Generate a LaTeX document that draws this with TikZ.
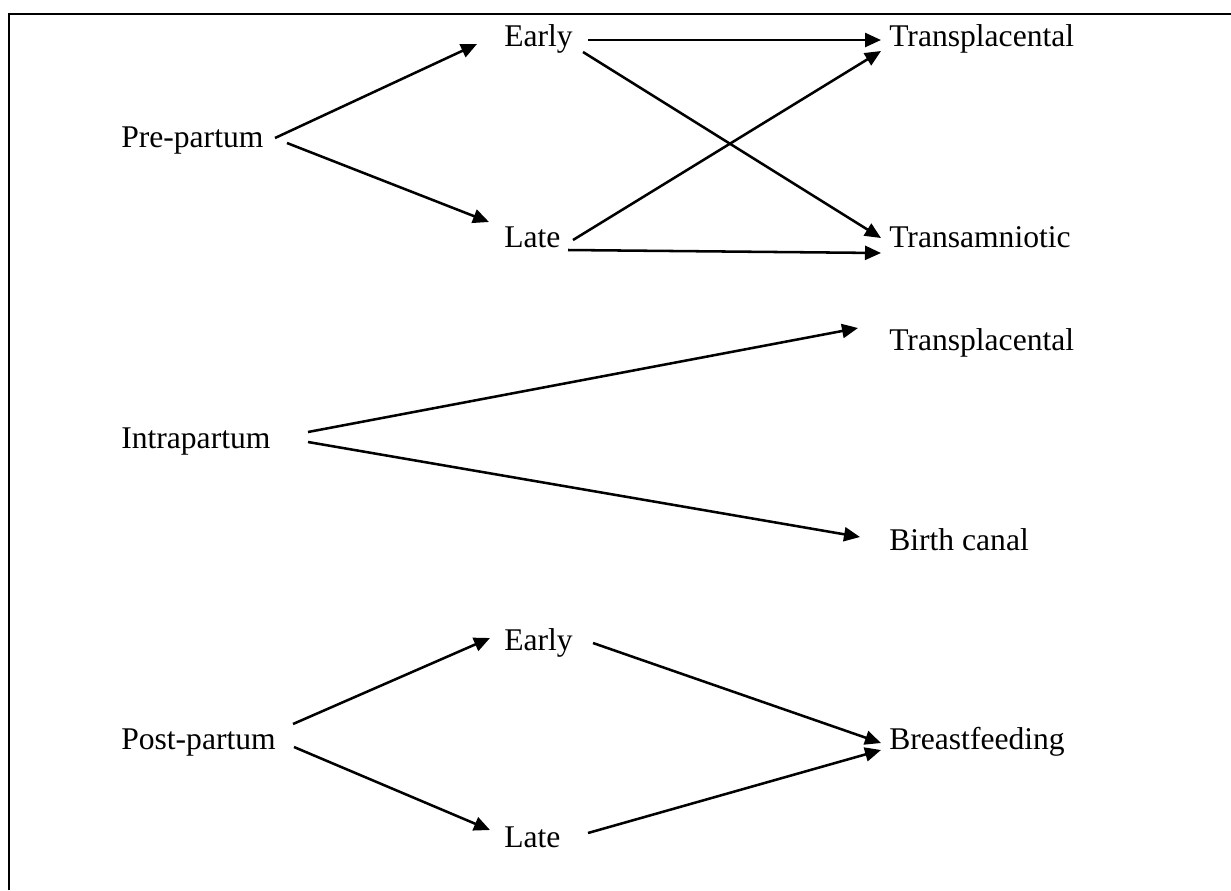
\documentclass[tikz,border=0pt]{standalone}
\usepackage{fontspec}
\setmainfont{Liberation Serif}
\usetikzlibrary{arrows.meta,calc}
\begin{document}
\begin{tikzpicture}[x=0.75pt,y=-0.75pt,
  lbl/.style={anchor=base west,inner sep=0pt,font=\fontsize{23.7}{28}\selectfont},
  arr/.style={line width=1.9pt,-{Triangle[length=12pt,width=10.5pt]}},
  frame/.style={line width=2.1pt}]
\useasboundingbox (0,0) rectangle (1231,890);
\draw[frame] (9,890) -- (9,14) -- (1231,14);
% nodes
\node[lbl] (pre)    at (121,147) {Pre-partum};
\node[lbl] (early1) at (504,46)  {Early};
\node[lbl] (late1)  at (504,247) {Late};
\node[lbl] (tp1)    at (889,46)  {Transplacental};
\node[lbl] (ta)     at (889,247) {Transamniotic};
\node[lbl] (intra)  at (121,448) {Intrapartum};
\node[lbl] (tp2)    at (889,350) {Transplacental};
\node[lbl] (birth)  at (889,550) {Birth canal};
\node[lbl] (post)   at (121,749) {Post-partum};
\node[lbl] (early2) at (504,650) {Early};
\node[lbl] (late2)  at (504,847) {Late};
\node[lbl] (breast) at (889,749) {Breastfeeding};
% connectors
\draw[arr] ($(pre.base west)+(154,-9)$) -- ($(early1.base west)+(-27,-2)$);
\draw[arr] ($(pre.base west)+(166,-4)$) -- ($(late1.base west)+(-15,-25)$);
\draw[arr] ($(early1.base west)+(84,-6)$) -- ($(tp1.base west)+(-8,-6)$);
\draw[arr] ($(early1.base west)+(79,6)$) -- ($(ta.base west)+(-8,-9)$);
\draw[arr] ($(late1.base west)+(69,-7)$) -- ($(tp1.base west)+(-8,5)$);
\draw[arr] ($(late1.base west)+(64,3)$) -- ($(ta.base west)+(-8,6)$);
\draw[arr] ($(intra.base west)+(187,-16)$) -- ($(tp2.base west)+(-31,-22)$);
\draw[arr] ($(intra.base west)+(187,-6)$) -- ($(birth.base west)+(-29,-13)$);
\draw[arr] ($(post.base west)+(172,-25)$) -- ($(early2.base west)+(-14,-12)$);
\draw[arr] ($(post.base west)+(173,-2)$) -- ($(late2.base west)+(-14,-17)$);
\draw[arr] ($(early2.base west)+(89,-7)$) -- ($(breast.base west)+(-8,-6)$);
\draw[arr] ($(late2.base west)+(84,-14)$) -- ($(breast.base west)+(-8,1)$);
\end{tikzpicture}
\end{document}
